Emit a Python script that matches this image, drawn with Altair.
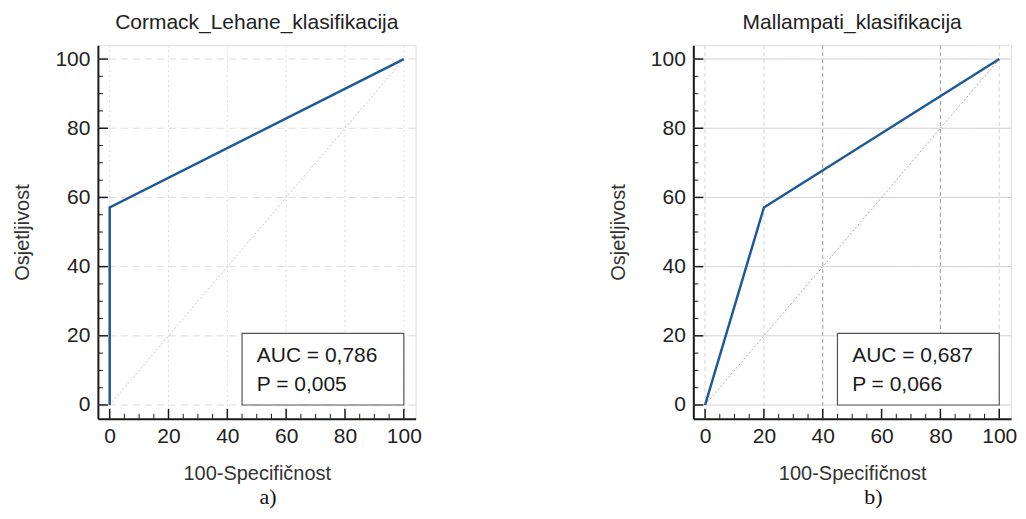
import altair as alt
import pandas as pd

# ---- data ----
titles = ["Cormack_Lehane_klasifikacija", "Mallampati_klasifikacija"]
panel_tags = ["a)", "b)"]
roc_x = [[0, 0, 100], [0, 20, 100]]
roc_y = [[0, 57.1, 100], [0, 57.1, 100]]
diag_x = [0, 100]
diag_y = [0, 100]
auc_text = ["AUC = 0,786", "AUC = 0,687"]
p_text = ["P = 0,005", "P = 0,066"]
box_x = [45, 100]
box_y = [0, 20.7]
major_ticks = [0, 20, 40, 60, 80, 100]
minor_ticks = [v for v in range(0, 101, 5) if v % 20 != 0]
grid_x = [[0, 20, 40, 60, 80, 100], [0, 20, 40, 80, 100]]
grid_y = [0, 20, 40, 60, 80, 100]

W, H = 318, 374
DOM = [-4, 104]
FONT = "Liberation Sans"
BLUE = "#1d5a96"


def panel(i):
    xs = alt.Scale(domain=DOM, nice=False, zero=False)
    ys = alt.Scale(domain=DOM, nice=False, zero=False)

    if i == 0:
        gx_color, gy_color = "#dcdcdc", "#dcdcdc"
        gx_dash, gy_dash = [2, 3], [7, 5]
        diag_color = "#c4c4c4"
    else:
        gx_color, gy_color = "#d2d2d2", "#cdcdcd"
        gx_dash, gy_dash = [4, 3], [1, 0]
        diag_color = "#c99a9a"

    gxdf = pd.DataFrame({"v": grid_x[i]})
    if i == 1:
        gxdf["dark"] = [v in (40, 80) for v in grid_x[i]]
    else:
        gxdf["dark"] = False
    gx = alt.Chart(gxdf).mark_rule(strokeDash=gx_dash, strokeWidth=1).encode(
        x=alt.X("v:Q", scale=xs),
        color=alt.condition(alt.datum.dark, alt.value("#9a9a9a"), alt.value(gx_color)),
    )
    gy = alt.Chart(pd.DataFrame({"v": grid_y})).mark_rule(
        strokeDash=gy_dash, strokeWidth=1, color=gy_color
    ).encode(y=alt.Y("v:Q", scale=ys))

    diag = alt.Chart(pd.DataFrame({"x": diag_x, "y": diag_y})).mark_line(
        color=diag_color, strokeWidth=1, strokeDash=[2, 2]
    ).encode(x=alt.X("x:Q", scale=xs), y=alt.Y("y:Q", scale=ys))

    roc = alt.Chart(
        pd.DataFrame({"x": roc_x[i], "y": roc_y[i], "o": [0, 1, 2]})
    ).mark_line(color=BLUE, strokeWidth=2.5).encode(
        x=alt.X(
            "x:Q", scale=xs,
            axis=alt.Axis(values=major_ticks, title="100-Specifičnost", grid=False,
                          ticks=False, domainColor="#1a1a1a", domainWidth=2,
                          labelFontSize=21, labelPadding=7, titleFontSize=20,
                          titlePadding=17, titleFontWeight="normal",
                          labelColor="#222", titleColor="#333", labelFont=FONT,
                          titleFont=FONT),
        ),
        y=alt.Y(
            "y:Q", scale=ys,
            axis=alt.Axis(values=major_ticks, title="Osjetljivost", grid=False,
                          ticks=False, domainColor="#1a1a1a", domainWidth=2,
                          labelFontSize=21, labelPadding=8, titleFontSize=20,
                          titlePadding=22, titleFontWeight="normal",
                          labelColor="#222", titleColor="#333", labelFont=FONT,
                          titleFont=FONT),
        ),
        order="o:Q",
    )

    box = alt.Chart(
        pd.DataFrame({"x": [box_x[0]], "x2": [box_x[1]], "y": [box_y[0]], "y2": [box_y[1]]})
    ).mark_rect(fill="white", stroke="#555", strokeWidth=1.2).encode(
        x=alt.X("x:Q", scale=xs), x2="x2:Q", y=alt.Y("y:Q", scale=ys), y2="y2:Q"
    )
    txt = alt.Chart(
        pd.DataFrame({"t": [auc_text[i], p_text[i]], "x": [50, 50], "y": [14.1, 5.8]})
    ).mark_text(align="left", baseline="middle", fontSize=21, font=FONT, color="#1a1a1a").encode(
        x=alt.X("x:Q", scale=xs), y=alt.Y("y:Q", scale=ys), text="t:N"
    )

    # inward ticks
    xmaj = alt.Chart(pd.DataFrame({"v": major_ticks})).mark_rule(color="#1a1a1a", strokeWidth=1.5).encode(
        x=alt.X("v:Q", scale=xs), y=alt.value(H), y2=alt.value(H - 10))
    xmin = alt.Chart(pd.DataFrame({"v": minor_ticks})).mark_rule(color="#1a1a1a", strokeWidth=1).encode(
        x=alt.X("v:Q", scale=xs), y=alt.value(H), y2=alt.value(H - 5))
    ymaj = alt.Chart(pd.DataFrame({"v": major_ticks})).mark_rule(color="#1a1a1a", strokeWidth=1.5).encode(
        y=alt.Y("v:Q", scale=ys), x=alt.value(0), x2=alt.value(10))
    ymin = alt.Chart(pd.DataFrame({"v": minor_ticks})).mark_rule(color="#1a1a1a", strokeWidth=1).encode(
        y=alt.Y("v:Q", scale=ys), x=alt.value(0), x2=alt.value(5))

    layer = alt.layer(gx, gy, diag, roc, box, txt, xmaj, xmin, ymaj, ymin).properties(
        width=W, height=H,
        title=alt.TitleParams(titles[i], font=FONT, fontSize=21, fontWeight="normal",
                              color="#222", offset=12, anchor="middle"),
    )
    return alt.vconcat(layer).properties(
        title=alt.TitleParams(panel_tags[i], orient="bottom", font="Liberation Serif",
                              fontSize=22, fontWeight="normal", color="#111",
                              offset=3, anchor="middle", dx=[51, 61][i])
    )


chart = alt.hconcat(panel(0), panel(1), spacing=185).configure_view(stroke=None).configure(
    padding={"left": 4, "top": 3, "right": 0, "bottom": 0}
)

chart.save("out.html", embed_options={"renderer": "svg", "actions": False})
